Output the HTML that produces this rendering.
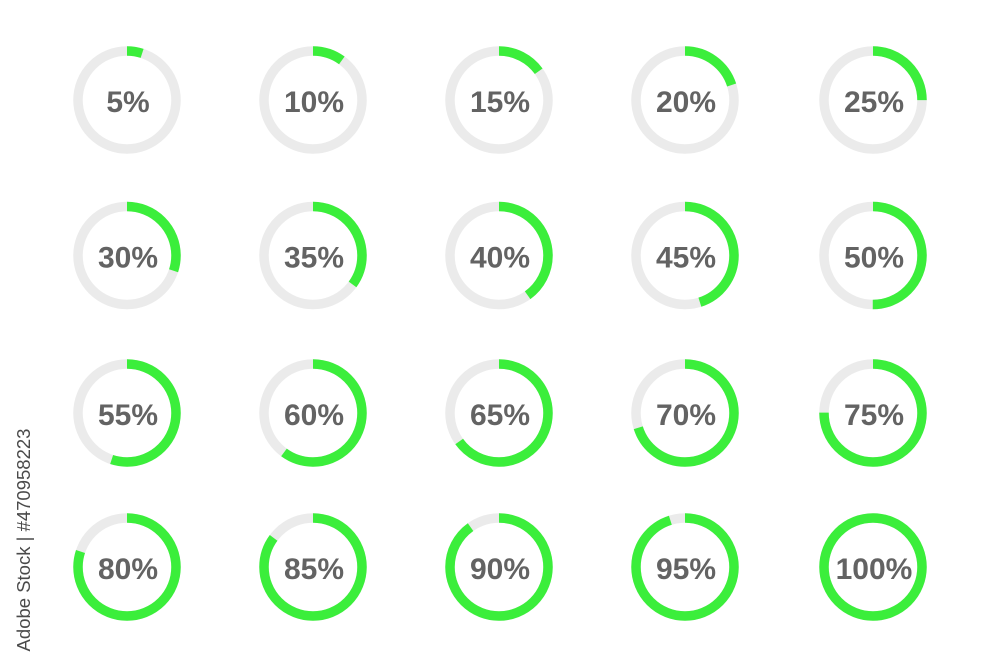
<!DOCTYPE html>
<html>
<head>
<meta charset="utf-8">
<style>
html,body{margin:0;padding:0;background:#fff;}
body{width:1000px;height:667px;overflow:hidden;}
svg{display:block;}
text{font-family:"Liberation Sans",Arial,sans-serif;}
</style>
</head>
<body>
<svg width="1000" height="667" viewBox="0 0 1000 667" xmlns="http://www.w3.org/2000/svg">
<rect width="1000" height="667" fill="#ffffff"/>
<g id="rings"></g>
<text x="0" y="0" transform="translate(30,540) rotate(-90)" text-anchor="middle" font-size="18.5" fill="#4a4a4a">Adobe Stock | #470958223</text>
<script>
(function(){
var xs=[127,313,499,685,873], ys=[100,255.5,413,567];
var r=49, C=2*Math.PI*r, ns="http://www.w3.org/2000/svg";
var g=document.getElementById('rings');
var p=5;
for(var row=0;row<4;row++){for(var col=0;col<5;col++){
 var cx=xs[col], cy=ys[row];
 var c1=document.createElementNS(ns,'circle');
 c1.setAttribute('cx',cx);c1.setAttribute('cy',cy);c1.setAttribute('r',r);
 c1.setAttribute('fill','none');c1.setAttribute('stroke','#ebebeb');c1.setAttribute('stroke-width','9.5');
 g.appendChild(c1);
 var c2=document.createElementNS(ns,'circle');
 c2.setAttribute('cx',cx);c2.setAttribute('cy',cy);c2.setAttribute('r',r);
 c2.setAttribute('fill','none');c2.setAttribute('stroke','#3bee3b');c2.setAttribute('stroke-width','9.5');
 var L=C*p/100;
 c2.setAttribute('stroke-dasharray', p>=100 ? (C+1)+' 0' : L+' '+(C-L));
 c2.setAttribute('transform','rotate(-90 '+cx+' '+cy+')');
 g.appendChild(c2);
 var t=document.createElementNS(ns,'text');
 t.setAttribute('x',cx+1);t.setAttribute('y',cy+12);
 t.setAttribute('text-anchor','middle');t.setAttribute('font-size','30');
 t.setAttribute('font-weight','bold');t.setAttribute('fill','#636363');
 t.textContent=p+'%';
 g.appendChild(t);
 p+=5;
}}
})();
</script>
</svg>
</body>
</html>
